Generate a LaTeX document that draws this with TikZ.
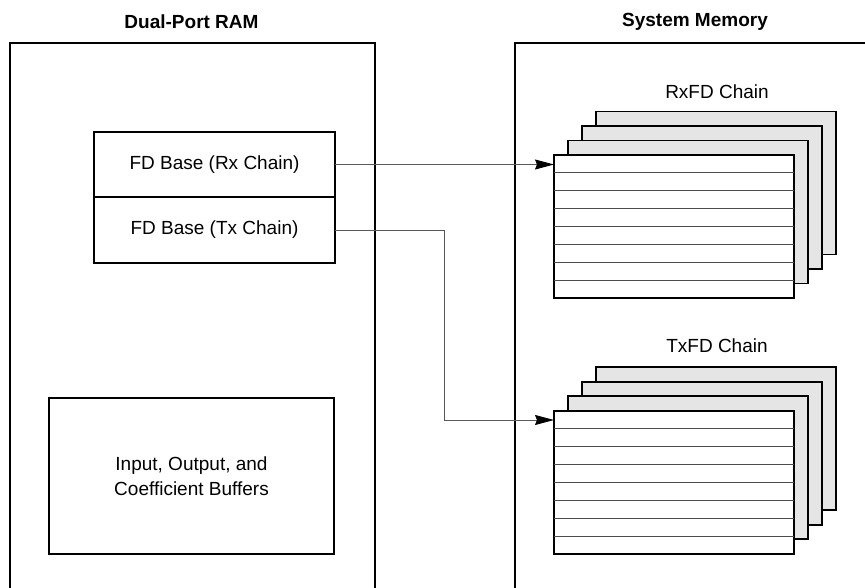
\documentclass[tikz,border=0pt]{standalone}
\usepackage{fontspec}
\setmainfont{Liberation Sans}
\usetikzlibrary{arrows.meta}
\newcommand{\fdstack}[3]{%
  \foreach \k in {3,2,1}
    \node [card, fill=black!10] at (#1+14*\k,#2-14.5*\k) {};
  \node [card, fill=white] (#3) at (#1,#2) {};
  \foreach \r in {1,...,7}
    \draw [row] (#3.north west) ++(0,\r*17.9) -- ++(240,0);
}

\begin{document}
\begin{tikzpicture}[x=1pt,y=-1pt,
    frame/.style={line width=1.6pt},
    box/.style={draw, line width=1.6pt, inner sep=0pt, outer sep=0pt,
      font=\fontsize{19}{25}\selectfont},
    card/.style={draw, line width=1.6pt, anchor=north west, inner sep=0pt,
      outer sep=0pt, minimum width=240pt, minimum height=143pt},
    row/.style={draw=black!70, line width=0.9pt},
    heading/.style={font=\bfseries\fontsize{19}{21}\selectfont},
    txt/.style={font=\fontsize{19}{25}\selectfont},
    link/.style={draw=black!65, line width=0.9pt,
      -{Stealth[length=19pt,width=10pt,inset=2pt,color=black]}}]
  \useasboundingbox (0,0) rectangle (865,588);
  \draw [frame] (10,589) |- (375,43) -- (375,589);
  \draw [frame] (515,589) |- (866,43);
  \node [heading] (dptitle) at (191.5,22) {Dual-Port RAM};
  \node [heading] (smtitle) at (695,22) {System Memory};

  \node [box, minimum width=241pt, minimum height=65pt] (fdrx) at (214.5,164.5) {FD Base (Rx Chain)};
  \node [box, minimum width=241pt, minimum height=66pt] (fdtx) at (214.5,230) {FD Base (Tx Chain)};
  \node [box, minimum width=285pt, minimum height=156pt, align=center] (bufs) at (191.5,476)
    {Input, Output, and\\Coefficient Buffers};

  \node [txt] (rxtitle) at (717,92) {RxFD Chain};
  \fdstack{554}{155}{rxfd}
  \node [txt] (txtitle) at (717,346) {TxFD Chain};
  \fdstack{554}{410.7}{txfd}

  \draw [link] (fdrx.east) -- (fdrx.east -| rxfd.west);
  \coordinate (txbend) at (444,420);
  \coordinate (txin) at (554,420);
  \draw [link] (fdtx.east) -| (txbend) -- (txin);
\end{tikzpicture}
\end{document}
